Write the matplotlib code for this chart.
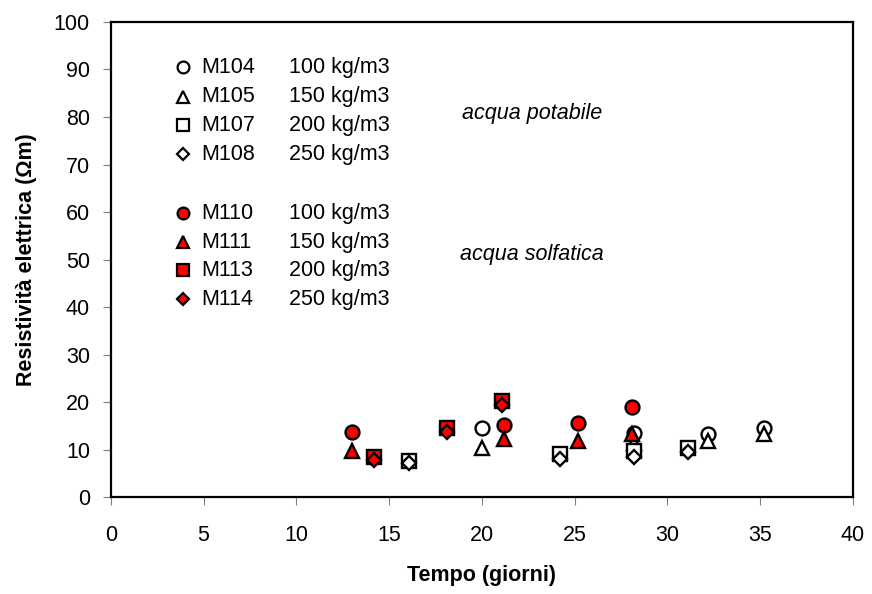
import matplotlib
matplotlib.use("Agg")
import matplotlib.pyplot as plt

plt.rcParams['font.family'] = ['Liberation Sans Narrow', 'Liberation Sans', 'DejaVu Sans']

# acqua potabile (white markers)
m104_x = [20.0, 28.2, 32.2, 35.2]
m104_y = [14.5, 13.5, 13.4, 14.5]
m105_x = [20.0, 28.2, 32.2, 35.2]
m105_y = [10.3, 11.4, 11.8, 13.3]
m107_x = [16.1, 24.2, 28.2, 31.1]
m107_y = [7.6, 9.0, 9.7, 10.4]
m108_x = [16.1, 24.2, 28.2, 31.1]
m108_y = [7.2, 8.0, 8.4, 9.6]

# acqua solfatica (red markers)
m110_x = [13.0, 21.2, 25.2, 28.1]
m110_y = [13.7, 15.2, 15.6, 18.9]
m111_x = [13.0, 21.2, 25.2, 28.1]
m111_y = [9.7, 12.2, 11.8, 13.3]
m113_x = [14.2, 18.1, 21.1]
m113_y = [8.5, 14.5, 20.3]
m114_x = [14.2, 18.1, 21.1]
m114_y = [7.8, 13.7, 19.5]

series = [
    ("M104", "100 kg/m3", m104_x, m104_y, "o", "white"),
    ("M105", "150 kg/m3", m105_x, m105_y, "^", "white"),
    ("M107", "200 kg/m3", m107_x, m107_y, "s", "white"),
    ("M108", "250 kg/m3", m108_x, m108_y, "D", "white"),
    ("M110", "100 kg/m3", m110_x, m110_y, "o", "red"),
    ("M111", "150 kg/m3", m111_x, m111_y, "^", "red"),
    ("M113", "200 kg/m3", m113_x, m113_y, "s", "red"),
    ("M114", "250 kg/m3", m114_x, m114_y, "D", "red"),
]
legend_y = [90.5, 84.3, 78.3, 72.2, 59.8, 53.6, 47.8, 41.7]
sizes = {"o": 10, "^": 10, "s": 9.5, "D": 7.5}
fs = 15.5

fig = plt.figure(figsize=(8.72, 5.94), dpi=100)
ax = fig.add_axes([0.127, 0.163, 0.851, 0.8])

for (name, dose, xs, ys, mk, fc), ly in zip(series, legend_y):
    ax.plot(xs, ys, linestyle='none', marker=mk, markersize=sizes[mk],
            markerfacecolor=fc, markeredgecolor='black', markeredgewidth=1.7)
    ax.plot([3.9], [ly], linestyle='none', marker=mk, markersize=sizes[mk] * 0.85,
            markerfacecolor=fc, markeredgecolor='black', markeredgewidth=1.6)
    ax.text(4.9, ly, name, fontsize=fs, va='center', ha='left')
    ax.text(9.6, ly, dose, fontsize=fs, va='center', ha='left')

ax.text(22.7, 80.8, "acqua potabile", fontsize=fs, style='italic', ha='center', va='center')
ax.text(22.7, 51.0, "acqua solfatica", fontsize=fs, style='italic', ha='center', va='center')

ax.set_xlim(0, 40)
ax.set_ylim(0, 100)
ax.set_xticks(range(0, 41, 5))
ax.set_yticks(range(0, 101, 10))
ax.tick_params(axis='both', direction='out', color='gray', labelsize=fs)
ax.tick_params(axis='y', length=6, pad=9)
ax.tick_params(axis='x', length=6, pad=14)
for s in ax.spines.values():
    s.set_linewidth(1.6)

ax.set_xlabel("Tempo (giorni)", fontsize=fs, fontweight='bold', labelpad=14)
ax.set_ylabel("Resistività elettrica (Ωm)", fontsize=fs, fontweight='bold', labelpad=12)

fig.savefig("out.png", dpi=100)
